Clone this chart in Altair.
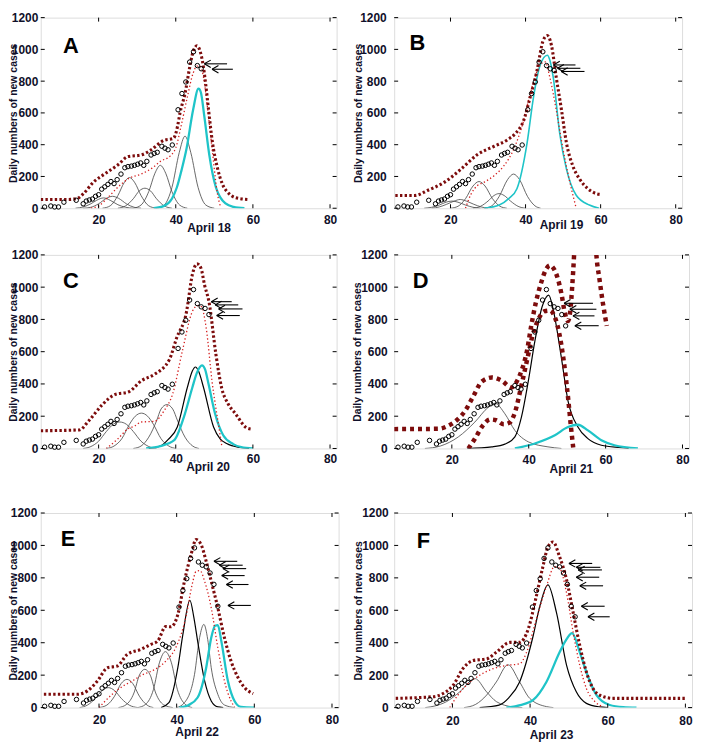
import altair as alt
import pandas as pd

# ---------------- data ----------------
X_TICKS = [20, 40, 60, 80]
Y_TICKS = [0, 200, 400, 600, 800, 1000, 1200]

DAYS = [6.0, 7.6, 8.6, 9.6, 11.0, 14.2, 16.0, 16.8, 17.6, 18.4, 19.2, 20.0, 20.8, 21.6,
        22.4, 23.2, 24.0, 24.8, 25.8, 26.8, 27.6, 28.5, 29.3, 30.1, 30.9, 31.7, 32.5,
        33.6, 34.4, 35.2, 36.4, 37.2, 38.0, 39.1, 40.6, 41.6, 42.6, 43.6, 44.6, 45.6,
        46.6, 47.6, 48.6, 49.6, 50.6, 51.6]
CASES = [8, 14, 8, 8, 38, 50, 28, 45, 52, 58, 75, 85, 120, 135, 150, 168, 155, 180, 215,
         255, 262, 265, 270, 277, 285, 270, 295, 335, 345, 352, 390, 378, 368, 398, 620,
         722, 795, 920, 985, 898, 878, 868, 830, 760, 625, 560]

PANEL_IDS = ["A", "B", "C", "D", "E", "F"]
PANEL_DATES = ["April 18", "April 19", "April 20", "April 21", "April 22", "April 23"]
LAST_OBS_DAY = [46.6, 47.6, 48.6, 49.6, 50.6, 51.6]
LETTER_X = [12.8, 11.2, 12.8, 11.9, 12.0, 12.5]
LETTER_Y = [1023, 1040, 1035, 1035, 1038, 1028]

# ---- panel A ----
A_GRAY = [
    [(14, 0), (16, 8), (18, 28), (19.5, 50), (21.3, 65), (23, 50), (25, 22), (27, 6), (29, 0)],
    [(16, 0), (18, 6), (20, 28), (22, 62), (23.6, 75), (25.2, 62), (27.2, 28), (29.2, 6), (31, 0)],
    [(21, 0), (23, 15), (25, 80), (26.6, 160), (28, 193), (29.4, 160), (31, 80), (33, 15), (35, 0)],
    [(25, 0), (27, 15), (29, 60), (30.5, 108), (32, 126), (33.5, 108), (35, 60), (37, 15), (39, 0)],
    [(29, 0), (31, 20), (33, 105), (34.6, 220), (36, 270), (37.4, 220), (39, 105), (41, 20), (43, 0)],
    [(35, 0), (37, 20), (39, 130), (40.9, 350), (42.4, 454), (43.9, 350), (45.8, 130), (47.8, 20), (50, 0)],
]
A_BLACK = []
A_CYAN = [(34.3, 0), (37, 15), (39, 60), (40.3, 132), (41.5, 240), (42.8, 376), (44.5, 620),
          (45.9, 753), (46.5, 730), (47.4, 580), (48.7, 335), (50.4, 132), (51.5, 70),
          (52.9, 30), (55, 8), (57.8, 0)]
A_UPPER = [[(5, 55), (12, 55), (14.5, 62), (16, 90), (18.7, 165), (21.7, 218), (25.1, 275),
            (27.6, 325), (31, 335), (33.5, 366), (36.9, 427), (39.4, 440), (40.5, 520),
            (41.1, 600), (42.4, 722), (43.6, 885), (44.5, 986), (45.5, 1023), (46.2, 997),
            (47.2, 885), (47.8, 773), (48.5, 620), (49.5, 417), (50.8, 254), (52.1, 152),
            (53.8, 92), (55.4, 67), (58.8, 55)]]
A_LOWER = [(18, 0), (20, 15), (22.5, 70), (25.1, 135), (28, 190), (31, 215), (34, 255),
           (36, 295), (38.6, 330), (40, 380), (41.5, 530), (43, 700), (44.5, 850),
           (45.5, 895), (46.3, 895), (47.2, 824), (48.3, 620), (49.5, 356), (50.8, 92),
           (51.6, 10)]
A_ARROW_TIP = [47.4, 49.4]
A_ARROW_TAIL = [53.3, 54.8]
A_ARROW_Y = [909, 875]

# ---- panel B ----
B_GRAY = [
    [(13, 0), (15, 6), (17, 20), (18.8, 38), (20.4, 45), (22, 38), (24, 20), (26, 6), (28, 0)],
    [(15, 0), (17, 8), (19, 25), (21, 45), (22.6, 55), (24.2, 45), (26.2, 25), (28.2, 8), (30, 0)],
    [(20, 0), (22, 12), (24, 60), (26, 140), (27.6, 168), (29.2, 140), (31.2, 60), (33.2, 12), (35, 0)],
    [(26, 0), (28, 12), (30, 45), (31.6, 80), (32.9, 92), (34.3, 80), (36, 45), (38, 12), (40, 0)],
    [(29, 0), (31, 15), (33, 75), (35.2, 180), (36.8, 215), (38.4, 180), (40.5, 75), (42.5, 15), (44, 0)],
]
B_BLACK = []
B_CYAN = [(29, 0), (33, 20), (35.5, 60), (37.7, 123), (40.4, 410), (42.1, 697), (43.9, 902),
          (45.8, 963), (46.5, 930), (47.4, 820), (49.1, 471), (50.9, 246), (53.5, 82),
          (57, 20), (59.6, 0)]
B_UPPER = [[(5.3, 80), (10.5, 80), (14, 113), (18.4, 164), (22.8, 246), (27.2, 338),
            (31.6, 390), (35.1, 430), (37.3, 471), (39.5, 553), (41.2, 697), (43, 861),
            (44.7, 1056), (45.8, 1087), (46.9, 1025), (48.2, 820), (49.6, 615), (50.9, 410),
            (52.6, 266), (54.4, 184), (56.6, 123), (58.8, 92), (60.1, 86)]]
B_LOWER = [(24, 0), (25.5, 90), (27.2, 143), (29, 164), (31.6, 205), (34.2, 266), (36.8, 369),
           (39.5, 553), (41.2, 717), (43.9, 902), (45.2, 922), (46.5, 820), (48.2, 615),
           (50, 369), (51.8, 164), (53.5, 0)]
B_ARROW_TIP = [47.4, 48.5, 49.5]
B_ARROW_TAIL = [53.3, 54.6, 55.7]
B_ARROW_Y = [902, 881, 861]

# ---- panel C ----
C_GRAY = [
    [(16, 0), (18, 12), (20, 45), (22, 105), (23.8, 150), (25.5, 164), (27.2, 150), (29, 105),
     (31, 45), (33, 12), (35, 0)],
    [(22, 0), (24, 15), (26, 60), (28, 150), (29.5, 200), (31.1, 219), (32.7, 200), (34.2, 150),
     (36.2, 60), (38.2, 15), (40, 0)],
    [(29, 0), (31, 15), (33, 70), (35, 170), (36.2, 245), (37.7, 272), (39.2, 245), (40.5, 170),
     (42.4, 70), (44.4, 15), (46, 0)],
]
C_BLACK = [[(33, 0), (36, 15), (38, 55), (40.4, 133), (43, 378), (44.3, 480), (45.1, 505),
            (45.9, 480), (47.2, 378), (49.8, 133), (51.5, 60), (53.2, 31), (56.6, 6), (59, 0)]]
C_CYAN = [(32.3, 0), (36, 15), (39.6, 51), (42.1, 194), (44.3, 378), (45.5, 470), (46.8, 515),
          (47.6, 490), (48.5, 399), (50.2, 215), (52.3, 82), (54.9, 27), (57, 8), (60, 0)]
C_UPPER = [[(5, 110), (15, 115), (17.4, 170), (20.9, 270), (24.3, 335), (27.7, 350),
            (31.1, 420), (34.5, 460), (38.4, 554), (40.2, 683), (42.8, 849), (44.3, 1077),
            (45.5, 1145), (46.5, 1120), (47.5, 1010), (48.6, 911), (50.4, 585), (51.9, 375),
            (53.5, 280), (55.5, 215), (58.3, 129), (59.5, 120)]]
C_LOWER = [(22, 0), (25, 60), (27.5, 120), (29.4, 140), (31.1, 164), (34.5, 168), (37, 235),
           (39.2, 338), (41.7, 603), (44.3, 849), (45.6, 885), (46.6, 880), (47.9, 745),
           (49.4, 418), (51.2, 129), (52, 5)]
C_ARROW_TIP = [49.2, 50.2, 51.1, 50.6]
C_ARROW_TAIL = [54.5, 56.2, 57.3, 56.6]
C_ARROW_Y = [910, 890, 865, 824]

# ---- panel D ----
D_GRAY = [[(13, 0), (17, 15), (21.7, 72), (26, 164), (29.5, 256), (31.2, 280), (33.8, 215),
           (36.4, 112), (39.9, 41), (45, 10), (48.5, 0)]]
D_BLACK = [[(24, 0), (30.4, 10), (33.8, 27), (36.4, 72), (38.1, 194), (39.9, 419), (41.6, 665),
            (43.5, 880), (45.2, 951), (46.3, 869), (48.5, 562), (50.2, 297), (52.8, 133),
            (55.4, 61), (58.9, 20), (64, 5), (66, 0)]]
D_CYAN = [(36.4, 0), (41.6, 31), (46.8, 82), (50.2, 133), (52.8, 147), (55.4, 112), (58.9, 51),
          (62.3, 20), (68.4, 0)]
D_UPPER = [[(5, 120), (16.5, 122), (19, 140), (21.5, 180), (23.5, 235), (25.5, 320),
            (27.8, 415), (30.4, 440), (33, 420), (35.5, 378), (37, 420), (38.1, 480),
            (39.5, 600), (40.7, 767), (42, 920), (43.3, 1033), (44.5, 1110), (45.5, 1135),
            (46.5, 1115), (47.6, 1050), (48.5, 960), (49.4, 840), (50.2, 790), (50.8, 850),
            (51.3, 1000), (51.8, 1200), (52.1, 1350)],
           [(57.2, 1350), (57.6, 1200), (58.4, 1050), (59.3, 900), (60.3, 760)]]
D_LOWER = [(24.3, 0), (26, 60), (28, 140), (30, 180), (31.5, 175), (33.5, 150), (35, 160),
           (36.5, 230), (38, 380), (39.5, 540), (41, 700), (42.5, 800), (44, 850), (45.5, 855),
           (46.5, 830), (47.5, 760), (48.5, 640), (49.5, 470), (50.3, 300), (51, 130), (51.6, 0)]
D_ARROW_TIP = [49.2, 50.7, 51.5, 52.0]
D_ARROW_TAIL = [56.7, 57.6, 57.1, 58.2]
D_ARROW_Y = [900, 863, 822, 761]

# ---- panel E ----
E_GRAY = [
    [(15, 0), (17, 15), (19, 55), (20.8, 105), (22.4, 123), (24, 105), (25.8, 55), (27.8, 15), (30, 0)],
    [(20, 0), (22, 15), (24, 70), (25.7, 148), (27.2, 174), (28.7, 148), (30.4, 70), (32.4, 15), (34, 0)],
    [(25, 0), (27, 18), (29, 90), (30.4, 200), (31.8, 236), (33.2, 200), (34.6, 90), (36.6, 18), (39, 0)],
    [(30, 0), (32, 20), (34, 110), (35.6, 280), (37.1, 345), (38.6, 280), (40.2, 110), (42.2, 20), (44, 0)],
    [(40, 0), (42, 30), (44.6, 205), (45.9, 431), (47, 513), (48, 420), (48.9, 246), (50.6, 82),
     (52.3, 16), (55, 0)],
]
E_BLACK = [[(36, 0), (38, 30), (40.3, 246), (41.6, 451), (43.4, 662), (44.4, 560), (45.4, 410),
            (47.2, 164), (48.9, 41), (50.6, 4), (52, 0)]]
E_CYAN = [(40.7, 0), (43, 15), (45.4, 62), (47.6, 246), (48.9, 431), (49.9, 505), (50.6, 509),
          (51.5, 410), (53.2, 164), (54.9, 41), (56.6, 4), (60, 0)]
E_UPPER = [[(5.8, 82), (14.4, 82), (17, 103), (19.6, 164), (22.2, 246), (24.7, 256), (27.3, 328),
            (30.8, 359), (33.4, 390), (35.1, 410), (37.2, 500), (38.5, 498), (40.3, 574),
            (42, 779), (43.7, 943), (45, 1036), (46.3, 1005), (47.6, 902), (48.9, 779),
            (50.6, 615), (52.3, 431), (54, 287), (55.8, 185), (57.5, 123), (59.7, 86)]]
E_LOWER = [(20, 0), (23.5, 84), (26, 130), (28.7, 166), (31, 200), (33.8, 228), (36, 260),
           (37.3, 289), (39.8, 371), (42.4, 560), (44, 760), (45, 840), (46, 845), (47.2, 779),
           (48.9, 615), (50.6, 369), (52.3, 164), (54, 41), (54.9, 4)]
E_ARROW_TIP = [49.6, 51.0, 51.9, 51.6, 52.8, 53.2]
E_ARROW_TAIL = [55.6, 57.0, 57.9, 57.5, 58.5, 59.1]
E_ARROW_Y = [902, 878, 857, 814, 759, 630]

# ---- panel F ----
F_GRAY = [
    [(13, 0), (15.5, 10), (18.5, 37), (21.9, 97), (25.8, 179), (28.8, 97), (31.3, 37), (35.6, 4), (38, 0)],
    [(23, 0), (26, 20), (28.8, 77), (31.3, 158), (34.3, 264), (37.3, 158), (39.9, 57), (44.2, 6), (46, 0)],
]
F_BLACK = [[(27, 0), (32, 15), (34.5, 60), (37.3, 158), (40.8, 443), (42.5, 625), (44.6, 757),
            (46.8, 585), (49.4, 260), (51.9, 97), (54.5, 26), (57.9, 4), (60, 0)]]
F_CYAN = [(33.9, 0), (37.5, 15), (40.8, 47), (44.2, 158), (47.6, 341), (49.4, 422), (50.8, 459),
          (52.8, 341), (54.5, 219), (57.1, 77), (60.5, 16), (64, 3), (67.4, 0)]
F_UPPER = [[(5.4, 57), (15, 67), (17.6, 87), (20.2, 138), (22.7, 240), (25.3, 290), (28.8, 300),
            (31.3, 341), (34.8, 402), (37.3, 402), (39.5, 483), (41.6, 686), (43.3, 869),
            (44.6, 991), (45.9, 1021), (47.6, 930), (49.4, 788), (51.1, 585), (52.8, 382),
            (54.5, 219), (56.2, 118), (57.9, 77), (61.4, 57), (80.3, 57)]]
F_LOWER = [(19.3, 0), (21.5, 80), (23.6, 138), (27, 199), (30.5, 240), (33.9, 260), (37.3, 270),
           (39.1, 341), (41.6, 544), (44.2, 747), (46.3, 869), (47.6, 859), (49.4, 706),
           (51.1, 463), (52.8, 260), (54.5, 118), (56.7, 37), (58.8, 4)]
F_ARROW_TIP = [50.0, 51.9, 52.4, 51.9, 52.8, 53.2, 54.9]
F_ARROW_TAIL = [56.0, 58.1, 58.5, 57.8, 58.8, 59.2, 60.5]
F_ARROW_Y = [889, 865, 849, 804, 751, 625, 560]

# ---------------- layout / style ----------------
PANEL_W = [298, 290, 298, 297, 300, 300]
PANEL_H = [192, 192, 195, 195, 196, 196]
TITLE_X = [169, 168, 168, 178, 157, 158]
TITLE_Y = [19, 16, 18.5, 20.5, 24.5, 27]
XLABEL_PAD = [6, 6, 5, 6, 7, 8]
YLABEL_PAD = [3, 8, 3, 7, 4, 6]
YTITLE_X = [-32, -41, -32, -42, -32, -41]

FONT = "Liberation Sans"
TXT = "#10102a"
DARKRED = "#7d0c0c"
RED = "#d41c1c"
CYAN = "#1fc4c8"
ARROW_SHAPE = "M0,0L2,-1.15M0,0L2,1.15"

ALL = {
    "A": (A_GRAY, A_BLACK, A_CYAN, A_UPPER, A_LOWER, A_ARROW_TIP, A_ARROW_TAIL, A_ARROW_Y),
    "B": (B_GRAY, B_BLACK, B_CYAN, B_UPPER, B_LOWER, B_ARROW_TIP, B_ARROW_TAIL, B_ARROW_Y),
    "C": (C_GRAY, C_BLACK, C_CYAN, C_UPPER, C_LOWER, C_ARROW_TIP, C_ARROW_TAIL, C_ARROW_Y),
    "D": (D_GRAY, D_BLACK, D_CYAN, D_UPPER, D_LOWER, D_ARROW_TIP, D_ARROW_TAIL, D_ARROW_Y),
    "E": (E_GRAY, E_BLACK, E_CYAN, E_UPPER, E_LOWER, E_ARROW_TIP, E_ARROW_TAIL, E_ARROW_Y),
    "F": (F_GRAY, F_BLACK, F_CYAN, F_UPPER, F_LOWER, F_ARROW_TIP, F_ARROW_TAIL, F_ARROW_Y),
}


def curves_df(curves):
    rows = []
    for k, pts in enumerate(curves):
        for x, y in pts:
            rows.append({"x": x, "y": y, "k": k})
    return pd.DataFrame(rows)


def make_panel(i):
    pid = PANEL_IDS[i]
    gray, black, cyan, upper, lower, tips, tails, ays = ALL[pid]
    W, H = PANEL_W[i], PANEL_H[i]
    xs = alt.Scale(domain=[5, 81.7], nice=False, zero=False)
    ys = alt.Scale(domain=[0, 1200], nice=False, zero=False)
    xaxis = alt.Axis(values=X_TICKS, format="d", title=PANEL_DATES[i], grid=False, ticks=False,
                     tickSize=0, domain=False, labelPadding=XLABEL_PAD[i], labelFont=FONT,
                     labelFontSize=12, labelFontWeight="bold", labelColor=TXT, labelFlush=False,
                     titleFont=FONT, titleFontSize=12, titleFontWeight="bold", titleColor=TXT,
                     titleX=TITLE_X[i], titleY=TITLE_Y[i], titleAlign="center",
                     titleBaseline="middle")
    yaxis = alt.Axis(values=Y_TICKS, format="d", title="Daily numbers of new cases", grid=False,
                     ticks=False, tickSize=0, domain=False, labelPadding=YLABEL_PAD[i],
                     labelFont=FONT, labelFontSize=12, labelFontWeight="bold", labelColor=TXT,
                     labelFlush=False, titleFont=FONT, titleFontSize=10.5,
                     titleFontWeight="bold", titleColor=TXT, titleX=YTITLE_X[i],
                     titleBaseline="top", titleAlign="center")
    X = alt.X("x:Q", scale=xs, axis=xaxis)
    Y = alt.Y("y:Q", scale=ys, axis=yaxis)

    obs = pd.DataFrame({"x": DAYS, "y": CASES})
    obs = obs[obs["x"] <= LAST_OBS_DAY[i] + 0.01]

    layers = []
    layers.append(alt.Chart(curves_df(gray)).mark_line(color="#4d4d4d", strokeWidth=0.85,
                                                       interpolate="monotone", clip=True)
                  .encode(x=X, y=Y, detail="k:N"))
    if black:
        layers.append(alt.Chart(curves_df(black)).mark_line(color="#000000", strokeWidth=1.2,
                                                            interpolate="monotone", clip=True)
                      .encode(x=X, y=Y, detail="k:N"))
    layers.append(alt.Chart(curves_df([cyan])).mark_line(color=CYAN,
                                                         strokeWidth=1.6 if pid == "B" else 2.3,
                                                         interpolate="monotone", clip=True)
                  .encode(x=X, y=Y))
    if pid == "D":
        layers.append(alt.Chart(curves_df([lower])).mark_line(color=DARKRED, strokeWidth=4.5,
                                                              strokeDash=[4, 4], interpolate="monotone",
                                                              clip=True).encode(x=X, y=Y))
        layers.append(alt.Chart(curves_df(upper)).mark_line(color=DARKRED, strokeWidth=4.5,
                                                            strokeDash=[4, 4], interpolate="monotone",
                                                            clip=True).encode(x=X, y=Y, detail="k:N"))
    else:
        layers.append(alt.Chart(curves_df([lower])).mark_line(color=RED, strokeWidth=1.3,
                                                              strokeDash=[1.3, 2.4], interpolate="monotone",
                                                              clip=True).encode(x=X, y=Y))
        layers.append(alt.Chart(curves_df(upper)).mark_line(color=DARKRED, strokeWidth=3.1,
                                                            strokeDash=[2.4, 2.3], interpolate="monotone",
                                                            clip=True).encode(x=X, y=Y, detail="k:N"))
    layers.append(alt.Chart(obs).mark_point(shape="circle", filled=False, color="black", size=20,
                                            strokeWidth=1, opacity=1).encode(x=X, y=Y))
    arr = pd.DataFrame({"x": tips, "x2": tails, "y": ays})
    layers.append(alt.Chart(arr).mark_rule(color="black", strokeWidth=1.1)
                  .encode(x=X, x2="x2:Q", y=Y))
    layers.append(alt.Chart(arr).mark_point(shape=ARROW_SHAPE, size=42, filled=False,
                                            color="black", strokeWidth=1.1, opacity=1)
                  .encode(x=X, y=Y))
    lab = pd.DataFrame({"x": [LETTER_X[i]], "y": [LETTER_Y[i]], "t": [pid]})
    layers.append(alt.Chart(lab).mark_text(font=FONT, fontSize=22, fontWeight="bold", color="black",
                                           align="center", baseline="middle")
                  .encode(x=X, y=Y, text="t:N"))
    yt = pd.DataFrame({"y": Y_TICKS})
    xt = pd.DataFrame({"x": X_TICKS})
    layers.append(alt.Chart(yt).mark_rule(color="black", strokeWidth=1)
                  .encode(y=Y, x=alt.value(0), x2=alt.value(4)))
    layers.append(alt.Chart(yt).mark_rule(color="black", strokeWidth=1)
                  .encode(y=Y, x=alt.value(W - 4), x2=alt.value(W)))
    layers.append(alt.Chart(xt).mark_rule(color="black", strokeWidth=1)
                  .encode(x=X, y=alt.value(H - 4), y2=alt.value(H)))
    layers.append(alt.Chart(xt).mark_rule(color="black", strokeWidth=1)
                  .encode(x=X, y=alt.value(0), y2=alt.value(4)))
    return alt.layer(*layers).properties(width=W, height=H)


panels = [make_panel(i) for i in range(6)]
row1 = alt.hconcat(panels[0], panels[1], spacing=58, bounds="flush")
row2 = alt.hconcat(panels[2], panels[3], spacing=58, bounds="flush")
row3 = alt.hconcat(panels[4], panels[5], spacing=56, bounds="flush")
top = alt.vconcat(row1, row2, spacing=14)
chart = alt.vconcat(top, row3, spacing=31).properties(
    padding={"left": 0, "top": 0, "right": 0, "bottom": 0}
).configure_view(stroke="black", strokeWidth=1).configure(background="white")

chart.save("out.html", embed_options={"renderer": "svg", "actions": False})
